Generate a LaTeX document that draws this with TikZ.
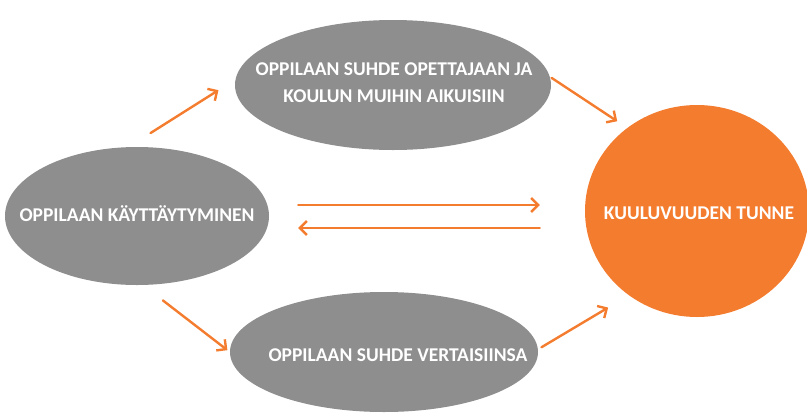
\documentclass[tikz,border=0pt]{standalone}
\usepackage{fontspec}
\setmainfont{Carlito}
\usetikzlibrary{shapes.geometric,arrows.meta}
\definecolor{ovalgray}{HTML}{8E8E8E}
\definecolor{kuuluorange}{HTML}{F47C2F}
\begin{document}
\begin{tikzpicture}[x=1pt, y=-1pt,
  blob/.style={ellipse, fill=ovalgray, inner sep=0pt},
  caption/.style={text=white, align=center, font=\bfseries\fontsize{19.5}{27}\selectfont},
  link/.style={kuuluorange, line width=2.4pt, line cap=round, -{Straight Barb[length=7pt,width=14pt]}}]
  \useasboundingbox (0,0) rectangle (807,416);
  % ovals
  \node[blob, minimum width=264pt, minimum height=138pt] (behav) at (137,216) {};
  \node[blob, minimum width=316pt, minimum height=130pt] (adults) at (393,85) {};
  \node[blob, minimum width=308pt, minimum height=120pt] (peers) at (384,352) {};
  \node[blob, fill=kuuluorange, minimum width=224pt, minimum height=212pt] (kuulu) at (697,211) {};
  \node[caption] (behav-txt) at (137,214) {OPPILAAN KÄYTTÄYTYMINEN};
  \node[caption] (adults-txt) at (394,83) {OPPILAAN SUHDE OPETTAJAAN JA\\KOULUN MUIHIN AIKUISIIN};
  \node[caption] (peers-txt) at (398,355) {OPPILAAN SUHDE VERTAISIINSA};
  \node[caption] (kuulu-txt) at (699,213) {KUULUVUUDEN TUNNE};
  % arrows
  \draw[link, shorten <=26pt, shorten >=20pt] (behav.97) -- (adults.178);
  \draw[link, shorten <=2pt, shorten >=12pt] (adults.3) -- (kuulu.130);
  \draw[link, shorten <=25pt, shorten >=3pt] (behav.-85) -- (peers.west);
  \draw[link, shorten <=4pt, shorten >=24pt] (peers.1) -- (kuulu.231);
  \draw[link] ([shift={(29,-11)}]behav.east) -- ([shift={(-45,-6)}]kuulu.west);
  \draw[link] ([shift={(-45,17)}]kuulu.west) -- ([shift={(29,12)}]behav.east);
\end{tikzpicture}
\end{document}
